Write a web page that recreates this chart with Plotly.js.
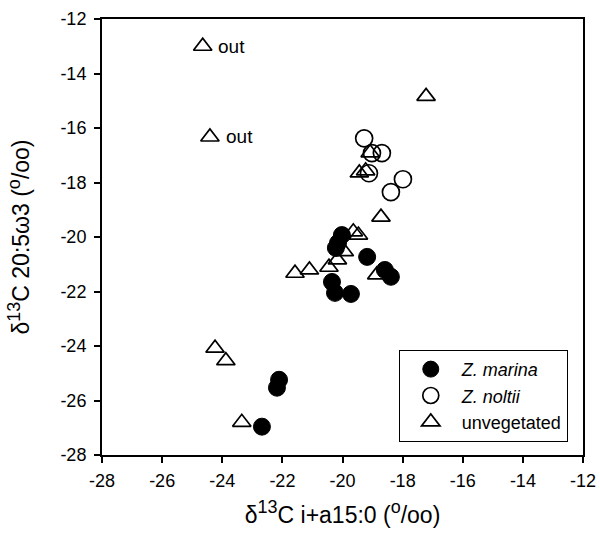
<!DOCTYPE html>
<html>
<head>
<meta charset="utf-8">
<script src="https://cdn.plot.ly/plotly-3.0.1.min.js"></script>
<style>html,body{margin:0;padding:0;background:#fff;}#chart{width:600px;height:537px;}</style>
</head>
<body>
<div id="chart"></div>
<script>
// Z. marina (filled circles)
const marinaX = [-20.02, -20.15, -20.22, -19.18, -18.59, -18.39, -20.35, -20.25, -19.72, -22.11, -22.18, -22.68];
const marinaY = [-19.93, -20.22, -20.40, -20.73, -21.21, -21.46, -21.65, -22.05, -22.09, -25.24, -25.53, -26.96];
// Z. noltii (open circles)
const noltiiX = [-19.28, -19.02, -18.69, -19.12, -17.99, -18.39];
const noltiiY = [-16.38, -16.92, -16.92, -17.66, -17.88, -18.35];
// unvegetated (open triangles)
const unvegX = [-24.65, -24.41, -17.22, -19.08, -19.44, -19.23, -18.72, -19.64, -19.47, -19.94, -20.17, -20.45, -21.10, -21.58, -18.86, -24.24, -23.88, -23.35];
const unvegY = [-13.00, -16.33, -14.84, -16.91, -17.65, -17.57, -19.27, -19.81, -19.93, -20.54, -20.84, -21.11, -21.21, -21.33, -21.39, -24.08, -24.54, -26.80];
// outlier labels
const outX = [-24.21, -23.94];
const outY = [-13.0, -16.33];
const outText = ['out', 'out'];
const xTicks = [-28, -26, -24, -22, -20, -18, -16, -14, -12];
const yTicks = [-28, -26, -24, -22, -20, -18, -16, -14, -12];

const font = 'Liberation Sans, Arial, Helvetica, sans-serif';
const sup = s => '<sup><span style="font-size:18px">' + s + '</span></sup>';

const traces = [
  {x: marinaX, y: marinaY, mode: 'markers', type: 'scatter', name: '<i>Z. marina</i>',
   marker: {symbol: 'circle', size: 17, color: '#000', line: {color: '#000', width: 1}}},
  {x: noltiiX, y: noltiiY, mode: 'markers', type: 'scatter', name: '<i>Z. noltii</i>',
   marker: {symbol: 'circle-open', size: 17, color: '#000', line: {color: '#000', width: 1.7}}},
  {x: unvegX, y: unvegY, mode: 'markers', type: 'scatter', name: 'unvegetated',
   marker: {symbol: 'triangle-up-open', size: 16, color: '#000', line: {color: '#000', width: 1.7}}}
];

const annotations = outX.map((x, i) => ({
  x: x, y: outY[i], xref: 'x', yref: 'y', text: outText[i], showarrow: false,
  xanchor: 'left', yanchor: 'middle', font: {family: font, size: 19, color: '#000'}
}));

const layout = {
  width: 600, height: 537,
  margin: {l: 102, r: 17, t: 18.5, b: 81.5},
  paper_bgcolor: '#fff', plot_bgcolor: '#fff',
  font: {family: font, size: 18, color: '#000'},
  showlegend: true,
  legend: {
    x: 0.617, y: 0.241, xanchor: 'left', yanchor: 'top',
    bordercolor: '#000', borderwidth: 1, bgcolor: '#fff',
    font: {family: font, size: 18, color: '#000'},
    itemwidth: 52, tracegroupgap: 0
  },
  xaxis: {
    range: [-28, -12], tickvals: xTicks, ticktext: xTicks.map(String),
    showgrid: false, zeroline: false, showline: true, linecolor: '#000', linewidth: 2,
    mirror: true, ticks: 'outside', ticklen: 6, tickwidth: 2, tickcolor: '#000',
    ticklabelstandoff: 2,
    title: {text: 'δ' + sup('13') + 'C i+a15:0 (' + sup('o') + '/oo)', font: {family: font, size: 23, color: '#000'}, standoff: 17}
  },
  yaxis: {
    range: [-28, -12], tickvals: yTicks, ticktext: yTicks.map(String),
    showgrid: false, zeroline: false, showline: true, linecolor: '#000', linewidth: 2,
    mirror: true, ticks: 'outside', ticklen: 6, tickwidth: 2, tickcolor: '#000',
    ticklabelstandoff: 4,
    title: {text: 'δ' + sup('13') + 'C 20:5ω3 (' + sup('o') + '/oo)', font: {family: font, size: 23, color: '#000'}, standoff: 24}
  },
  annotations: annotations
};

Plotly.newPlot('chart', traces, layout, {displayModeBar: false, staticPlot: true});
</script>
</body>
</html>
